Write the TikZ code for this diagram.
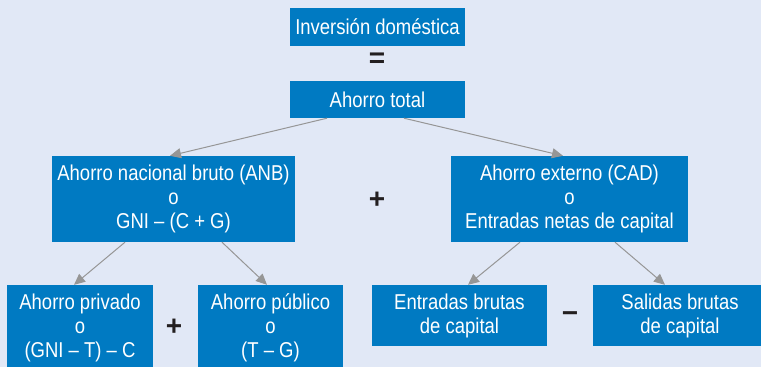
\documentclass[tikz,border=0pt]{standalone}
\usepackage{fontspec}
\setmainfont{Liberation Sans}[FakeStretch=0.86]
\newfontfamily\signos{Liberation Sans}
\usetikzlibrary{arrows.meta}
\definecolor{fondo}{RGB}{225,232,246}
\definecolor{azul}{RGB}{0,122,194}
\definecolor{gris}{RGB}{150,150,150}
\definecolor{negro}{RGB}{35,31,32}
\begin{document}
\begin{tikzpicture}[x=1pt,y=-1pt,font=\fontsize{21.5}{24}\selectfont,
	caja/.style={fill=azul,text=white,align=center,inner sep=0pt},
	flecha/.style={draw=gris,line width=1pt,-{Triangle[length=11pt,width=10pt]}},
	signo/.style={text=negro,font=\signos\bfseries\fontsize{28}{28}\selectfont}]
	\fill[fondo] (0,0) rectangle (761,367);
	\useasboundingbox (0,0) rectangle (761,367);
	\clip (0,0) rectangle (761,367);
	\node[caja,minimum width=175pt,minimum height=38pt] (inv) at (377.5,27) {Inversión doméstica};
	\node[signo] (igual) at (377,60) {=};
	\node[caja,minimum width=175pt,minimum height=37pt] (total) at (377.5,99.5) {Ahorro total};
	\node[caja,minimum width=243pt,minimum height=86pt] (anb) at (173.5,199) {Ahorro nacional bruto (ANB)\\o\\GNI – (C + G)};
	\node[signo] (mas1) at (377,200) {+};
	\node[caja,minimum width=237pt,minimum height=86pt] (cad) at (569.5,199) {Ahorro externo (CAD)\\o\\Entradas netas de capital};
	\node[caja,minimum width=146pt,minimum height=86pt] (priv) at (80,328) {Ahorro privado\\o\\(GNI – T) – C};
	\node[signo] (mas2) at (174,327) {+};
	\node[caja,minimum width=145pt,minimum height=86pt] (pub) at (270.5,328) {Ahorro público\\o\\(T – G)};
	\node[caja,minimum width=175pt,minimum height=61pt] (entr) at (459.5,315.5) {Entradas brutas\\de capital};
	\node[signo] (menos) at (570,317) {−};
	\node[caja,minimum width=174pt,minimum height=61pt] (sal) at (680,315.5) {Salidas brutas\\de capital};
	\draw[flecha] ([xshift=-50.5pt]total.south) -- ([xshift=-3.5pt]anb.north);
	\draw[flecha] ([xshift=26.5pt]total.south) -- ([xshift=-6.5pt]cad.north);
	\draw[flecha] ([xshift=-48.5pt]anb.south) -- ([xshift=-6pt]priv.north);
	\draw[flecha] ([xshift=48.5pt]anb.south) -- ([xshift=-3.5pt]pub.north);
	\draw[flecha] ([xshift=-49.5pt]cad.south) -- ([xshift=8.5pt]entr.north);
	\draw[flecha] ([xshift=45.5pt]cad.south) -- ([xshift=-15pt]sal.north);
\end{tikzpicture}
\end{document}
